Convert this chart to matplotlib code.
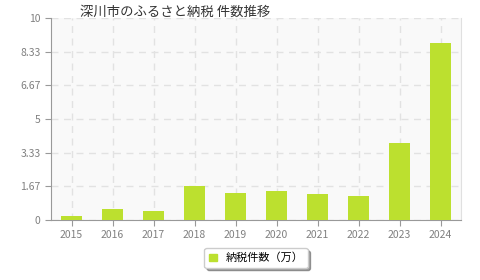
import matplotlib
matplotlib.use("Agg")
import matplotlib.pyplot as plt

plt.rcParams['font.family'] = ['Noto Sans CJK JP', 'DejaVu Sans']

years = ["2015", "2016", "2017", "2018", "2019", "2020", "2021", "2022", "2023", "2024"]
counts = [0.21, 0.53, 0.45, 1.70, 1.35, 1.45, 1.31, 1.20, 3.80, 8.75]
yticks = [0, 1.67, 3.33, 5, 6.67, 8.33, 10]
ytick_labels = ["0", "1.67", "3.33", "5", "6.67", "8.33", "10"]
title = "深川市のふるさと納税 件数推移"
series_name = "納税件数（万）"

fig = plt.figure(figsize=(4.8, 2.8), dpi=100)
ax = fig.add_axes([51/480, 1-220/280, 410/480, 202/280])
ax.set_facecolor('#f9f9f9')
x = list(range(len(years)))
ax.bar(x, counts, width=0.49, color='#bce02f', zorder=3)
ax.set_xlim(-0.5, len(years)-0.5)
ax.set_ylim(0, 10)
ax.set_yticks(yticks)
ax.set_yticklabels(ytick_labels)
ax.set_xticks(x)
ax.set_xticklabels(years)
ax.grid(True, color='#e2e2e2', linestyle=(0, (5, 4)), linewidth=1, zorder=0)
ax.spines['top'].set_visible(False)
ax.spines['right'].set_color('#e0e0e0')
ax.spines['left'].set_color('#999999')
ax.spines['bottom'].set_color('#999999')
ax.tick_params(axis='both', colors='#999999', labelcolor='#808080', labelsize=7.5, length=4)
ax.tick_params(axis='x', pad=3)
fig.text(80/480, 1-12/280, title, fontsize=9.6, va='center', ha='left', color='#333333')

leg = ax.legend([plt.Rectangle((0, 0), 1, 1, color='#bce02f')], [series_name],
                loc='center', bbox_to_anchor=(0.5, (1-258/280 - (1-220/280))/(202/280)),
                frameon=True, fancybox=True, shadow=True, fontsize=8,
                handlelength=0.7, handleheight=0.7, borderpad=0.4, borderaxespad=0)
leg.get_frame().set_edgecolor('#cccccc')
leg.get_frame().set_facecolor('white')
fig.savefig('out.png', dpi=100)
